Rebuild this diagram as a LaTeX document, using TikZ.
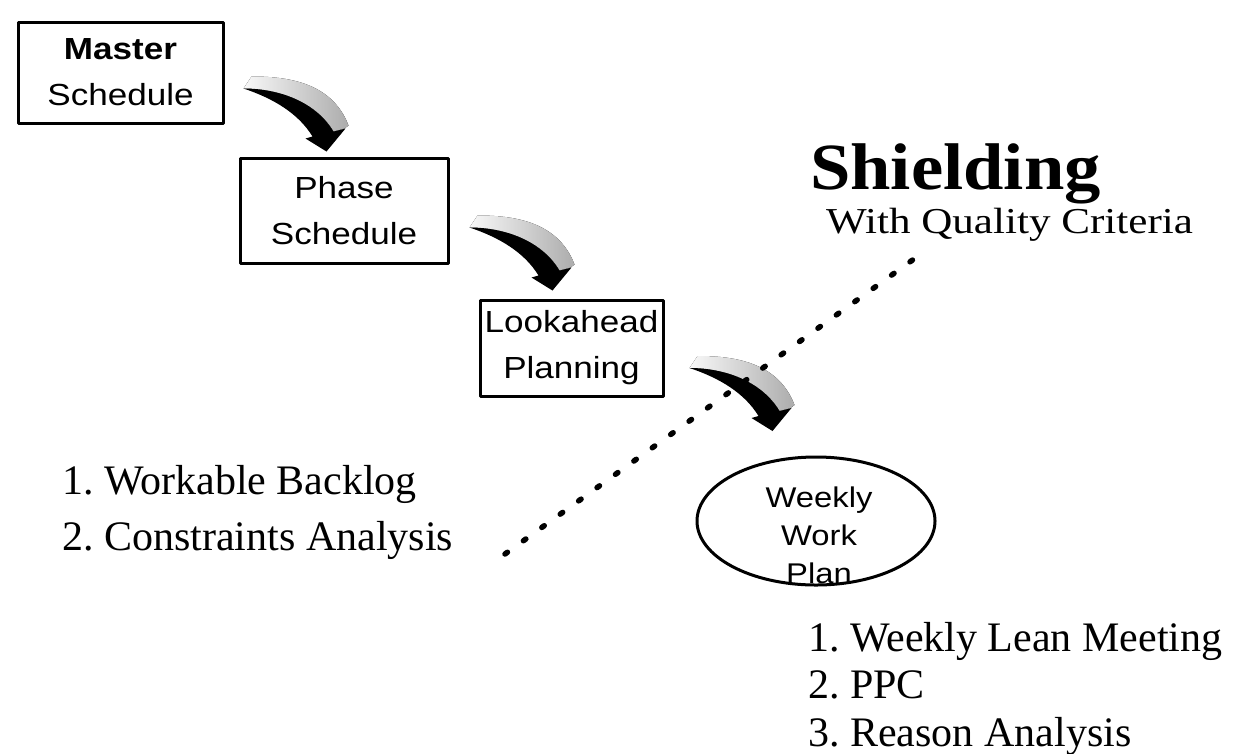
\documentclass[tikz,border=0pt]{standalone}
\usepackage{fontspec}
\setmainfont{Liberation Serif}
\newfontfamily\boxfont[FakeStretch=1.15]{Liberation Sans}
\newfontfamily\widefont[FakeStretch=1.18]{Liberation Serif}
\newfontfamily\titlefont[FakeStretch=1.1]{Liberation Serif}

\begin{document}
\begin{tikzpicture}[x=1pt,y=-1pt,line cap=round,line join=round,
  box/.style={draw,line width=3pt,inner sep=0pt,align=center,font=\boxfont\fontsize{30.5}{46}\selectfont},
  listtext/.style={anchor=base west,inner sep=0pt,font=\fontsize{42}{42}\selectfont},
  shieldline/.style={line width=5.5pt,dash pattern=on 3pt off 19.7pt,line cap=round},
  bentarrow/.pic={
    \fill[left color=gray!5,right color=gray!65] (0,0) -- (8,-12) .. controls (40,-12) and (88,-8) .. (105,37) -- (101,40) -- (90,43) .. controls (72,13) and (35,0) .. (0,0) -- cycle;
    \fill[black] (0,0) .. controls (35,0) and (72,13) .. (90,43) -- (102,40) -- (83,63) -- (62,50) -- (69,48) .. controls (55,25) and (30,10) .. (0,0) -- cycle;
  }]
\useasboundingbox (0,0) rectangle (1238,753);

\node[box,minimum width=205pt,minimum height=101pt] (master) at (120.5,72.5) {\textbf{Master}\\Schedule};
\node[box,minimum width=208pt,minimum height=105pt] (phase) at (344,210.5) {Phase\\Schedule};
\node[box,minimum width=183pt,minimum height=96pt] (lookahead) at (571.5,348) {Lookahead\\Planning};
\draw[line width=3pt] (816,521) ellipse [x radius=119, y radius=64];
\node[inner sep=0pt,align=center,font=\boxfont\fontsize{28.5}{38}\selectfont] (weekly) at (819,535) {Weekly\\Work\\Plan};

\pic at ([shift={(19,16)}]master.east) {bentarrow};
\pic at ([shift={(20,17)}]phase.east) {bentarrow};
\pic at ([shift={(25,20)}]lookahead.east) {bentarrow};

\node[anchor=base west,inner sep=0pt,font=\titlefont\bfseries\fontsize{66}{66}\selectfont] (shielding) at (810,189) {Shielding};
\node[anchor=base west,inner sep=0pt,font=\widefont\fontsize{36.5}{36.5}\selectfont] (criteria) at (826,233) {With Quality Criteria};

\coordinate (dotlow) at (505,554);
\coordinate (dothigh) at (925,251);
\draw[shieldline] (dotlow) -- (dothigh);

\node[listtext] (backlog) at (62,494) {1.\ Workable Backlog};
\node[listtext] (constraints) at (62,550) {2.\ Constraints Analysis};

\node[listtext] (meeting) at (808,651) {1.\ Weekly Lean Meeting};
\node[listtext] (ppc) at (808,698) {2.\ PPC};
\node[listtext] (reason) at (808,746) {3.\ Reason Analysis};
\end{tikzpicture}
\end{document}
